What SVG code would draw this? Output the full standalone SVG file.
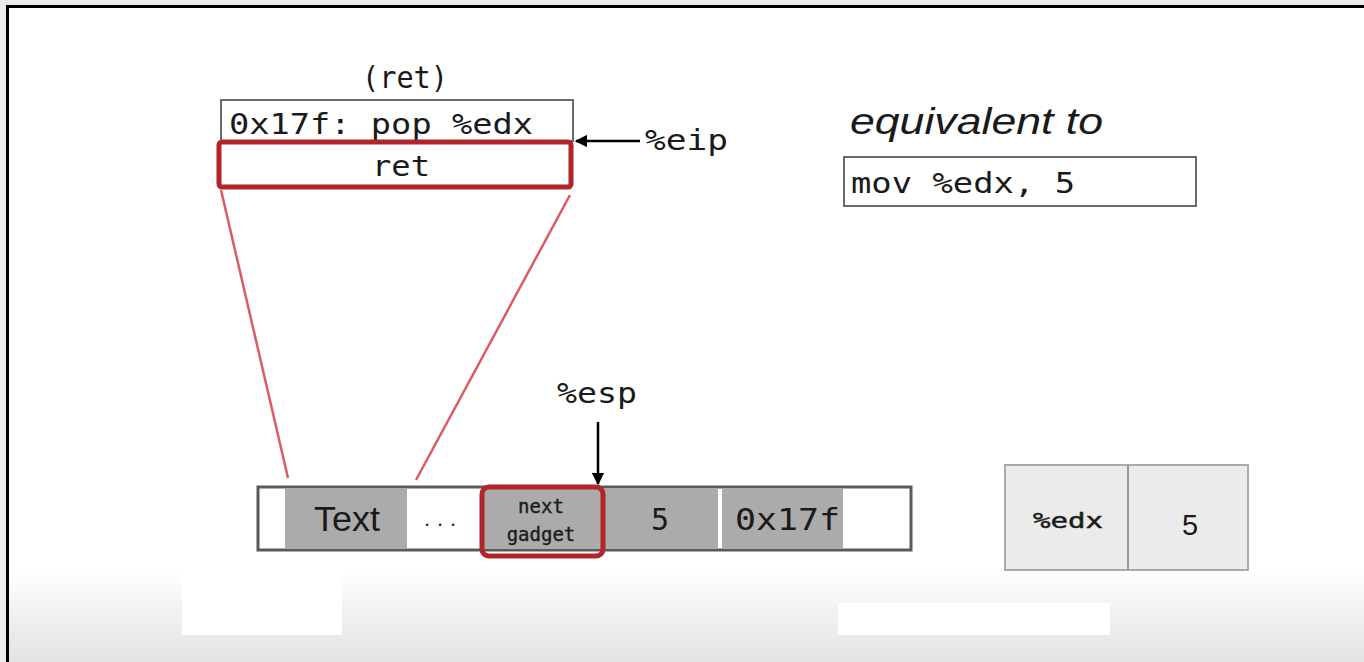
<svg xmlns="http://www.w3.org/2000/svg" width="1364" height="662" viewBox="0 0 1364 662">
  <defs>
    <linearGradient id="floor" x1="0" y1="0" x2="0" y2="1">
      <stop offset="0" stop-color="#ffffff"/>
      <stop offset="0.86" stop-color="#ffffff"/>
      <stop offset="1" stop-color="#e2e2e2"/>
    </linearGradient>
    <marker id="arrow" viewBox="0 0 10 10" refX="9" refY="5" markerWidth="5" markerHeight="5" orient="auto" markerUnits="strokeWidth">
      <path d="M0,0 L10,5 L0,10 z" fill="#000"/>
    </marker>
    <style>
      .mono { font-family: "DejaVu Sans Mono", "Liberation Mono", monospace; fill: #1a1a1a; }
      .sans { font-family: "Liberation Sans", "DejaVu Sans", sans-serif; fill: #1a1a1a; }
      .codebox { fill: #ffffff; stroke: #6a6a6a; stroke-width: 2; }
      .hilite { fill: none; stroke: #b3232a; stroke-width: 5; }
      .cell { fill: #ababab; }
      .zoomline { stroke: #dc5a64; stroke-width: 2.5; fill: none; }
      .pointer { stroke: #000; stroke-width: 2.5; fill: none; marker-end: url(#arrow); }
    </style>
  </defs>

  <!-- slide frame -->
  <rect x="0" y="0" width="1364" height="662" fill="#ececec"/>
  <rect x="7" y="6" width="1357" height="656" fill="url(#floor)"/>
  <rect x="182" y="555" width="160" height="80" fill="#ffffff"/>
  <rect x="838" y="603" width="272" height="32" fill="#ffffff"/>
  <path d="M7.5,662 V6.5 H1364" fill="none" stroke="#000" stroke-width="3"/>

  <!-- gadget listing -->
  <g id="gadget">
    <text class="mono" x="405" y="88" font-size="30" text-anchor="middle" textLength="86" lengthAdjust="spacingAndGlyphs">(ret)</text>
    <rect class="codebox" x="221" y="100" width="352" height="41"/>
    <text class="mono" x="229" y="134" font-size="29" textLength="304" lengthAdjust="spacingAndGlyphs">0x17f: pop %edx</text>
    <rect class="hilite" x="219" y="142" width="352" height="45" rx="3"/>
    <text class="mono" x="401" y="176" font-size="29" text-anchor="middle" textLength="58" lengthAdjust="spacingAndGlyphs">ret</text>
  </g>

  <!-- equivalent instruction -->
  <g id="equivalent">
    <text class="sans" x="850" y="134" font-size="37" font-style="italic" fill="#333" textLength="253" lengthAdjust="spacingAndGlyphs">equivalent to</text>
    <rect class="codebox" x="844" y="157" width="352" height="49"/>
    <text class="mono" x="851" y="193" font-size="29" textLength="224" lengthAdjust="spacingAndGlyphs">mov %edx, 5</text>
  </g>

  <!-- register labels -->
  <g id="eip-label">
    <text class="mono" x="645" y="150" font-size="29" textLength="83" lengthAdjust="spacingAndGlyphs">%eip</text>
  </g>
  <g id="esp-label">
    <text class="mono" x="557" y="403" font-size="29" textLength="80" lengthAdjust="spacingAndGlyphs">%esp</text>
  </g>

  <!-- stack -->
  <g id="stack">
    <rect x="258" y="487" width="653" height="63" fill="#ffffff" stroke="#5a5a5a" stroke-width="3"/>
    <rect class="cell" x="285" y="489" width="122" height="59"/>
    <text class="sans" x="347" y="531" font-size="35" text-anchor="middle" fill="#333" textLength="66" lengthAdjust="spacingAndGlyphs">Text</text>
    <text class="sans" x="440" y="526" font-size="22" text-anchor="middle" fill="#888" textLength="32" lengthAdjust="spacing">...</text>
    <rect class="cell" x="484" y="489" width="117" height="59"/>
    <text class="mono" x="541" y="513" font-size="19" text-anchor="middle" fill="#222" stroke="#222" stroke-width="0.4">next</text>
    <text class="mono" x="541" y="541" font-size="19" text-anchor="middle" fill="#222" stroke="#222" stroke-width="0.4">gadget</text>
    <rect class="cell" x="604" y="489" width="114" height="59"/>
    <text class="mono" x="660" y="530" font-size="30" text-anchor="middle">5</text>
    <rect class="cell" x="722" y="489" width="121" height="59"/>
    <text class="mono" x="735" y="530" font-size="30" textLength="105" lengthAdjust="spacingAndGlyphs">0x17f</text>
    <rect class="hilite" x="482" y="487" width="121" height="69" rx="7"/>
  </g>

  <!-- register file -->
  <g id="register">
    <rect x="1005" y="465" width="243" height="105" fill="#ebebeb" stroke="#aaaaaa" stroke-width="2"/>
    <line x1="1128" y1="465" x2="1128" y2="570" stroke="#999" stroke-width="2"/>
    <text class="mono" x="1068" y="528" font-size="22" text-anchor="middle" fill="#222" stroke="#222" stroke-width="0.5" textLength="70" lengthAdjust="spacingAndGlyphs">%edx</text>
    <text class="sans" x="1190" y="535" font-size="29" text-anchor="middle" fill="#333">5</text>
  </g>

  <!-- connectors -->
  <g id="connectors">
    <line class="zoomline" x1="221" y1="190" x2="288" y2="478"/>
    <line class="zoomline" x1="570" y1="195" x2="416" y2="480"/>
    <line class="pointer" x1="640" y1="141" x2="576" y2="141"/>
    <line class="pointer" x1="598" y1="422" x2="598" y2="484"/>
  </g>
</svg>
